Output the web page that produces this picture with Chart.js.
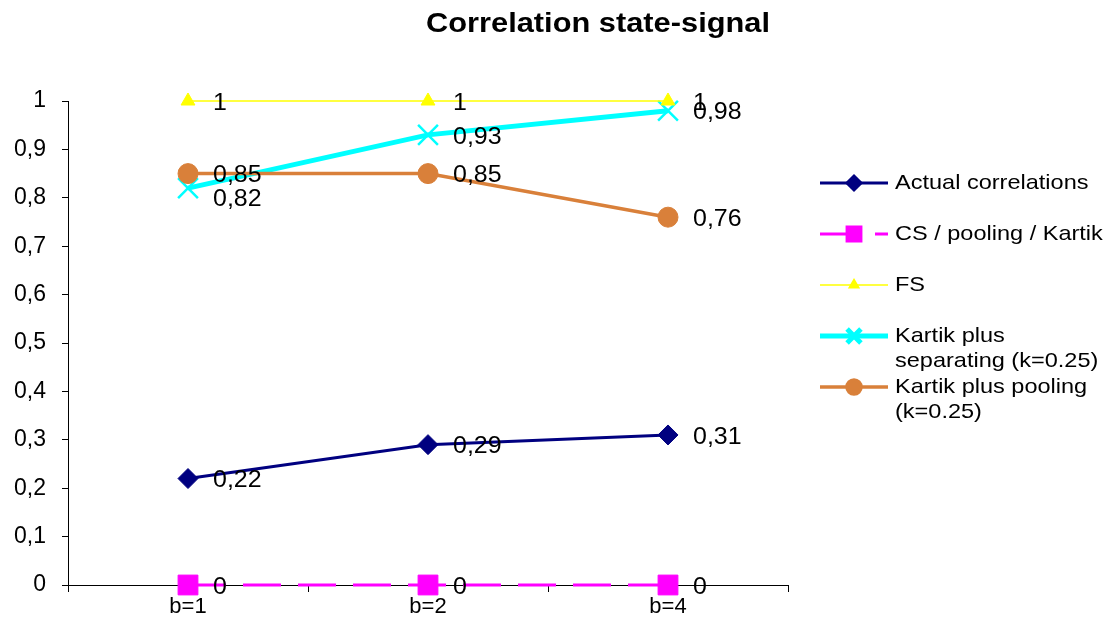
<!DOCTYPE html>
<html>
<head>
<meta charset="utf-8">
<script src="https://cdn.jsdelivr.net/npm/chart.js@4/dist/chart.umd.min.js"></script>
<style>
  html, body { margin: 0; padding: 0; background: #fff; }
  #wrap { width: 1112px; height: 630px; }
</style>
</head>
<body>
<div id="wrap"><canvas id="chart" width="1112" height="630"></canvas></div>
<script>
// chart data
const categories = ['b=1', 'b=2', 'b=4'];
const seriesNames = ['Actual correlations', 'CS / pooling / Kartik', 'FS', 'Kartik plus separating (k=0.25)', 'Kartik plus pooling (k=0.25)'];
const legendLines = [['Actual correlations'], ['CS / pooling / Kartik'], ['FS'], ['Kartik plus', 'separating (k=0.25)'], ['Kartik plus pooling', '(k=0.25)']];
const actual = [0.22, 0.29, 0.31];
const csPooling = [0, 0, 0];
const fs = [1, 1, 1];
const kartikSep = [0.82, 0.93, 0.98];
const kartikPool = [0.85, 0.85, 0.76];
const yTicks = [0, 0.1, 0.2, 0.3, 0.4, 0.5, 0.6, 0.7, 0.8, 0.9, 1];

const FONT = '"Liberation Sans", Arial, sans-serif';
const fmt = v => String(Math.round(v * 100) / 100).replace('.', ',');

// text a bit wider than normal, like the stretched Excel picture
function wideText(ctx, text, x, y, sx, align) {
  ctx.save();
  ctx.translate(x, y);
  ctx.scale(sx, 1);
  ctx.textAlign = align;
  ctx.fillText(text, 0, 0);
  ctx.restore();
}

// title, legend and point labels drawn by hand (Excel look)
const excelBits = {
  id: 'excelBits',
  afterDatasetsDraw(chart) {
    const ctx = chart.ctx;
    ctx.save();

    // point labels
    ctx.font = '24px ' + FONT;
    ctx.fillStyle = '#000';
    ctx.textBaseline = 'middle';
    chart.data.datasets.forEach((ds, i) => {
      const meta = chart.getDatasetMeta(i);
      meta.data.forEach((pt, j) => {
        const shift = (ds.labelShift && ds.labelShift[j]) || 0;
        wideText(ctx, fmt(ds.data[j]), pt.x + 25, pt.y + 2 + shift, 1.04, 'left');
      });
    });

    // title
    ctx.font = 'bold 28px ' + FONT;
    wideText(ctx, 'Correlation state-signal', 598, 24, 1.1, 'center');

    // legend
    let y = 183;
    chart.data.datasets.forEach((ds, i) => {
      ctx.save();
      ctx.strokeStyle = ds.borderColor;
      ctx.lineWidth = ds.borderWidth;
      ctx.setLineDash(ds.borderDash || []);
      ctx.beginPath();
      ctx.moveTo(820, y);
      ctx.lineTo(888, y);
      ctx.stroke();
      ctx.setLineDash([]);
      ctx.fillStyle = ds.pointBackgroundColor;
      ctx.strokeStyle = ds.pointBorderColor;
      Chart.helpers.drawPoint(ctx, {
        pointStyle: ds.pointStyle,
        radius: ds.pointRadius * 0.7,
        rotation: 0,
        borderWidth: ds.pointBorderWidth * 0.7
      }, 854, y);
      ctx.restore();

      ctx.font = '21px ' + FONT;
      ctx.fillStyle = '#000';
      ctx.textBaseline = 'middle';
      legendLines[i].forEach((line, k) => wideText(ctx, line, 895, y + k * 25, 1.12, 'left'));
      y += 51;
    });

    ctx.restore();
  }
};

const ctx = document.getElementById('chart').getContext('2d');

new Chart(ctx, {
  type: 'line',
  data: {
    labels: categories,
    datasets: [
      {
        label: seriesNames[0],
        data: actual,
        borderColor: '#000080',
        borderWidth: 3,
        pointStyle: 'rectRot',
        pointRadius: 10,
        pointBackgroundColor: '#000080',
        pointBorderColor: '#000080',
        pointBorderWidth: 1,
        order: 1
      },
      {
        label: seriesNames[1],
        data: csPooling,
        borderColor: '#FF00FF',
        borderWidth: 3,
        borderDash: [38, 17],
        pointStyle: 'rect',
        pointRadius: 14,
        pointBackgroundColor: '#FF00FF',
        pointBorderColor: '#FF00FF',
        pointBorderWidth: 1,
        order: 2
      },
      {
        label: seriesNames[2],
        data: fs,
        borderColor: '#FFFF00',
        borderWidth: 1.5,
        pointStyle: 'triangle',
        pointRadius: 8,
        pointBackgroundColor: '#FFFF00',
        pointBorderColor: '#FFFF00',
        pointBorderWidth: 1,
        order: 3
      },
      {
        label: seriesNames[3],
        data: kartikSep,
        borderColor: '#00FFFF',
        borderWidth: 5,
        pointStyle: 'crossRot',
        pointRadius: 14,
        pointBackgroundColor: '#00FFFF',
        pointBorderColor: '#00FFFF',
        pointBorderWidth: 2.5,
        labelShift: [9, 0, 0],
        order: 5
      },
      {
        label: seriesNames[4],
        data: kartikPool,
        borderColor: '#D9803A',
        borderWidth: 3.5,
        pointStyle: 'circle',
        pointRadius: 10,
        pointBackgroundColor: '#D9803A',
        pointBorderColor: '#D9803A',
        pointBorderWidth: 1,
        order: 4
      }
    ]
  },
  options: {
    responsive: false,
    animation: false,
    clip: false,
    layout: { padding: { top: 101, right: 324, left: 0, bottom: 0 } },
    plugins: {
      legend: { display: false },
      title: { display: false },
      tooltip: { enabled: false }
    },
    elements: { line: { tension: 0 } },
    scales: {
      x: {
        offset: true,
        grid: { offset: true, drawOnChartArea: false, color: '#000', tickLength: 7 },
        border: { color: '#000', width: 1 },
        ticks: { color: '#000', font: { family: FONT, size: 22 }, padding: 2 },
        afterFit: s => { s.height = 45; }
      },
      y: {
        min: 0,
        max: 1,
        afterBuildTicks: s => { s.ticks = yTicks.map(v => ({ value: v })); },
        grid: { drawOnChartArea: false, color: '#000', tickLength: 6 },
        border: { color: '#000', width: 1 },
        ticks: {
          color: '#000',
          font: { family: FONT, size: 23 },
          padding: 16,
          callback: v => fmt(v)
        },
        afterFit: s => { s.width = 68; }
      }
    }
  },
  plugins: [excelBits]
});
</script>
</body>
</html>
